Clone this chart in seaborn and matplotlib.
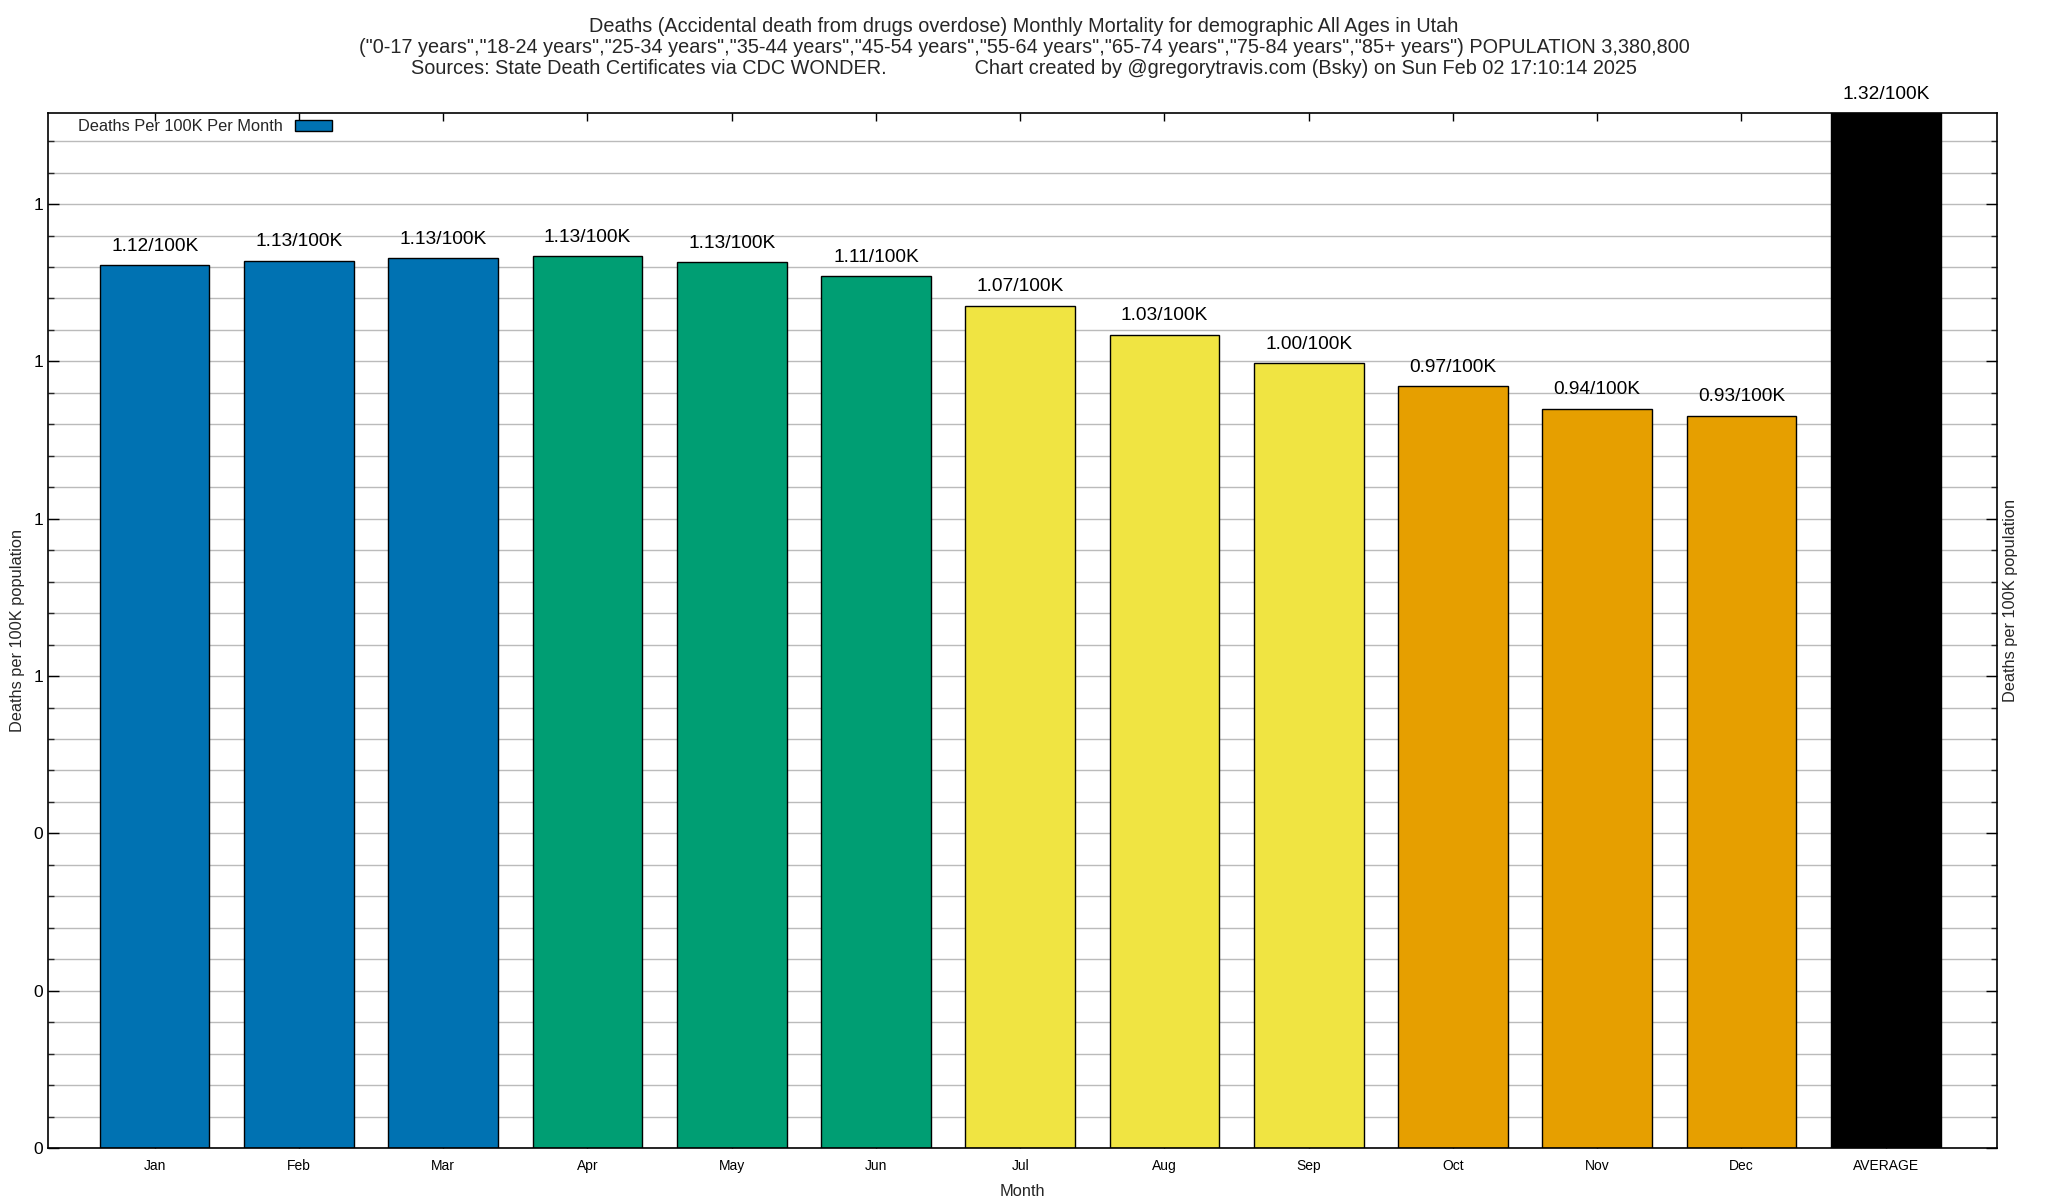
import numpy as np
import pandas as pd
import matplotlib
matplotlib.use("Agg")
import matplotlib.pyplot as plt
import matplotlib.ticker as mticker
from matplotlib.patches import Patch
import seaborn as sns

# values
months = ['Jan', 'Feb', 'Mar', 'Apr', 'May', 'Jun', 'Jul', 'Aug', 'Sep', 'Oct', 'Nov', 'Dec', 'AVERAGE']
rates = [1.122, 1.128, 1.131, 1.134, 1.126, 1.108, 1.071, 1.034, 0.998, 0.969, 0.940, 0.931, 1.316]
bar_colors = ['#0072B2', '#0072B2', '#0072B2',
              '#009E73', '#009E73', '#009E73',
              '#F0E442', '#F0E442', '#F0E442',
              '#E69F00', '#E69F00', '#E69F00',
              '#000000']

title_lines = [
    "Deaths (Accidental death from drugs overdose) Monthly Mortality for demographic All Ages in Utah",
    '("0-17 years","18-24 years","25-34 years","35-44 years","45-54 years","55-64 years","65-74 years","75-84 years","85+ years") POPULATION 3,380,800',
    "Sources: State Death Certificates via CDC WONDER.                Chart created by @gregorytravis.com (Bsky) on Sun Feb 02 17:10:14 2025",
]

df = pd.DataFrame({'month': months, 'rate': rates})

sns.set_theme(style="white")
plt.rcParams['font.family'] = ['Liberation Sans', 'DejaVu Sans']

fig, ax = plt.subplots(figsize=(20.48, 12), dpi=100)
fig.subplots_adjust(left=0.0234, right=0.975, top=0.906, bottom=0.0433)

sns.barplot(data=df, x='month', y='rate', hue='month', palette=bar_colors,
            width=0.76, edgecolor='black', linewidth=1.0, saturation=1,
            legend=False, ax=ax)

# labels above bars
for i, v in enumerate(rates):
    ax.text(i, v + 0.013, "{0:.2f}/100K".format(v), ha='center', va='bottom', fontsize=13.8, color='black')

ax.set_xlim(-0.74, 12.77)
ax.set_ylim(0, rates[-1])
ax.yaxis.set_major_locator(mticker.MultipleLocator(0.2))
ax.yaxis.set_minor_locator(mticker.MultipleLocator(0.04))
ax.yaxis.set_major_formatter(mticker.FormatStrFormatter('%.0f'))
ax.yaxis.grid(True, which='both', color='#bbbbbb', linewidth=1.0)
ax.set_axisbelow(True)

ax.tick_params(axis='y', which='major', direction='in', length=8, width=1, left=True, right=True, labelsize=12.5, colors='black')
ax.tick_params(axis='y', which='minor', direction='in', length=4, width=1, left=True, right=True)
ax.tick_params(axis='x', which='major', direction='in', length=6, width=1, top=True, bottom=True, labelsize=10, pad=8, colors='black')

for s in ax.spines.values():
    s.set_color('black')
    s.set_linewidth(1.2)

ax.set_xlabel("Month", fontsize=11.8, labelpad=8)
ax.set_ylabel("Deaths per 100K population", fontsize=11.8, labelpad=6)
fig.text(0.9815, 0.5, "Deaths per 100K population", rotation=90, ha='center', va='center', fontsize=11.8)

fig.text(0.5, 0.986, "\n".join(title_lines), ha='center', va='top', fontsize=14.3, linespacing=1.15)

handle = Patch(facecolor='#0072B2', edgecolor='black', linewidth=1.0, label='Deaths Per 100K Per Month')
ax.legend(handles=[handle], loc='upper left', frameon=False, markerfirst=False,
          fontsize=11.8, handlelength=2.3, handleheight=0.6, handletextpad=0.7,
          bbox_to_anchor=(0.008, 1.008))

fig.savefig("out.png", dpi=100)
